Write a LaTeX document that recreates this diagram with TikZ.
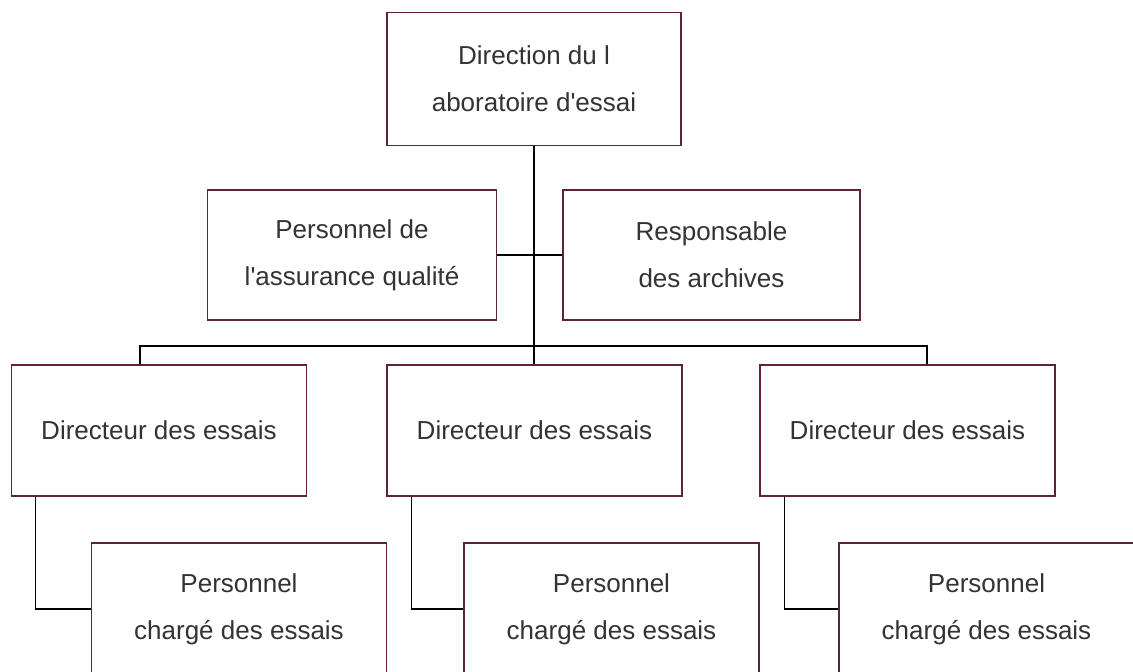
\documentclass[tikz,border=0pt]{standalone}
\usepackage{fontspec}
\setmainfont{Liberation Sans}
\usetikzlibrary{calc}
\definecolor{boxline}{RGB}{95,35,55}
\definecolor{txt}{RGB}{51,51,51}
\tikzset{every node/.style={font=\fontsize{26}{47}\selectfont,text=txt},box/.style={draw=boxline,line width=1.5pt,align=center,inner sep=0pt,minimum width=295pt,minimum height=131pt},link/.style={line width=1.4pt,black}}

\begin{document}
\begin{tikzpicture}[x=1pt,y=-1pt]
\useasboundingbox[fill=white] (0,0) rectangle (1133,672);
\node[box,minimum width=294pt,minimum height=133pt] (dir) at (534,79){Direction du l\\aboratoire d\textquotesingle essai};
\node[box,minimum width=289pt,minimum height=130pt] (qa) at (352,255){Personnel de\\l\textquotesingle assurance qualit\'e};\node[box,minimum width=297pt,minimum height=130pt] (arch) at (711.5,255){Responsable\\des archives};
\node[box] (d1) at (159,430.5){Directeur des essais};\node[box] (d2) at (534.5,430.5){Directeur des essais};\node[box] (d3) at (907.5,430.5){Directeur des essais};
\node[box,minimum height=132pt] (p1) at (239,609){Personnel\\charg\'e des essais};\node[box,minimum height=132pt] (p2) at (611.5,609){Personnel\\charg\'e des essais};\node[box,minimum height=132pt] (p3) at (986.5,609){Personnel\\charg\'e des essais};
\coordinate (b1) at (140,346);\coordinate (b3) at (927,346);
\draw[link] (dir.south) -- (dir.south |- d2.north);\draw[link] (qa.east) -- (arch.west);
\draw[link] (b1 |- d1.north) -- (b1) -- (b3) -- (b3 |- d3.north);
\foreach \i in {1,2,3}{\draw[link] ([xshift=25pt]d\i.south west) |- (p\i.west);}
\end{tikzpicture}
\end{document}
